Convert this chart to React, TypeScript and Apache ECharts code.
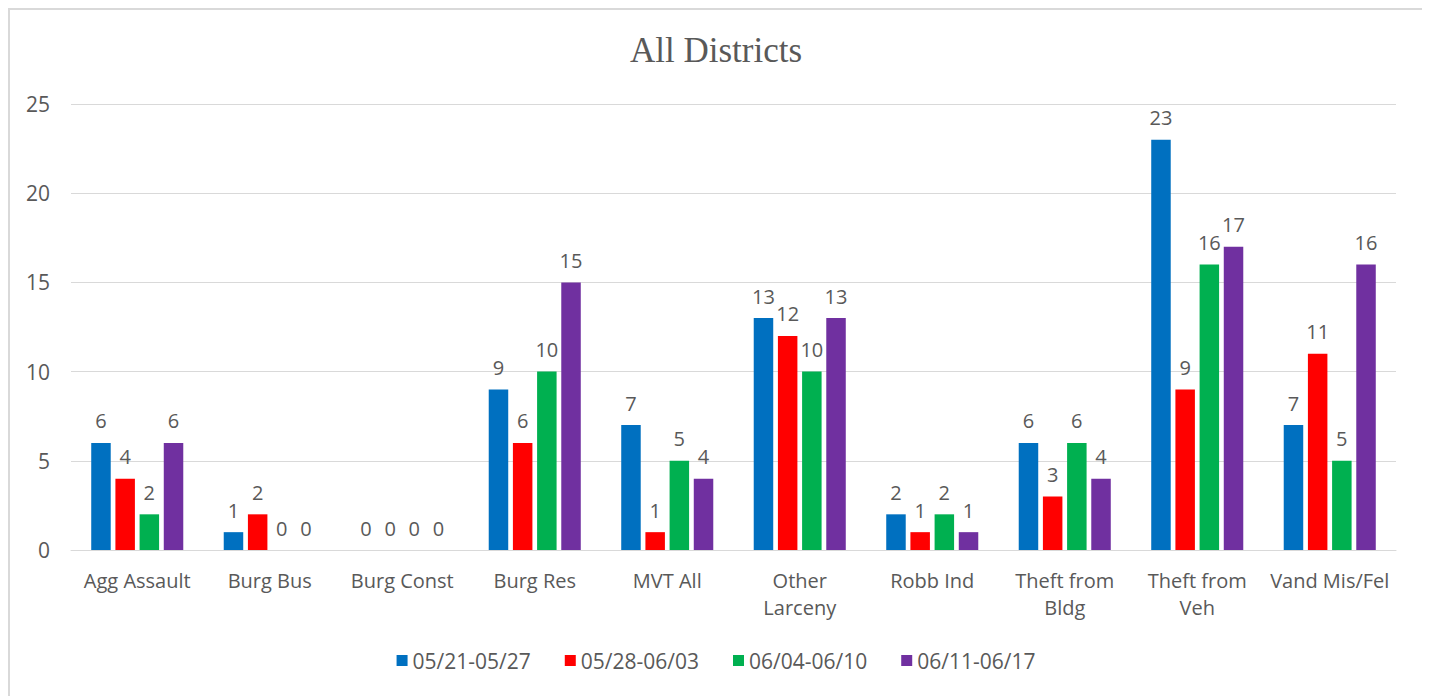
import React, { useEffect, useRef } from "react";
import * as echarts from "echarts";

const categories = [
  "Agg Assault",
  "Burg Bus",
  "Burg Const",
  "Burg Res",
  "MVT All",
  "Other\nLarceny",
  "Robb Ind",
  "Theft from\nBldg",
  "Theft from\nVeh",
  "Vand Mis/Fel",
];
const seriesNames = ["05/21-05/27", "05/28-06/03", "06/04-06/10", "06/11-06/17"];
const week1 = [6, 1, 0, 9, 7, 13, 2, 6, 23, 7];
const week2 = [4, 2, 0, 6, 1, 12, 1, 3, 9, 11];
const week3 = [2, 0, 0, 10, 5, 10, 2, 6, 16, 5];
const week4 = [6, 0, 0, 15, 4, 13, 1, 4, 17, 16];
const colors = ["#0070C0", "#FF0000", "#00B050", "#7030A0"];
const yTicks = { min: 0, max: 25, interval: 5 };

const SANS = "'Open Sans', 'Noto Sans', sans-serif";

export default function App() {
  const ref = useRef<HTMLDivElement>(null);
  useEffect(() => {
    if (!ref.current) return;
    const chart = echarts.init(ref.current, null, { renderer: "svg" });
    const data = [week1, week2, week3, week4];
    chart.setOption({
      animation: false,
      title: {
        text: "All Districts",
        left: "center",
        top: 18,
        textStyle: {
          fontFamily: "'Liberation Serif', 'DejaVu Serif', serif",
          fontWeight: "normal",
          fontSize: 35,
          color: "#595959",
        },
      },
      legend: {
        top: 635,
        left: "center",
        itemWidth: 11,
        itemHeight: 11,
        itemGap: 34,
        icon: "rect",
        textStyle: { fontFamily: SANS, fontSize: 21, color: "#595959" },
        data: seriesNames,
      },
      grid: { left: 61, right: 26, top: 94, height: 446 },
      xAxis: {
        type: "category",
        data: categories,
        axisLine: { lineStyle: { color: "#d9d9d9" } },
        axisTick: { show: false },
        axisLabel: {
          fontFamily: SANS,
          fontSize: 20,
          color: "#595959",
          margin: 17,
          lineHeight: 27,
          interval: 0,
        },
      },
      yAxis: {
        type: "value",
        min: yTicks.min,
        max: yTicks.max,
        interval: yTicks.interval,
        axisLine: { show: false },
        axisTick: { show: false },
        splitLine: { lineStyle: { color: "#d9d9d9" } },
        axisLabel: {
          fontFamily: SANS,
          fontSize: 21,
          color: "#595959",
          margin: 21,
        },
      },
      series: seriesNames.map((name, i) => ({
        name,
        type: "bar",
        data: data[i],
        barWidth: 19.5,
        barGap: "24%",
        itemStyle: { color: colors[i] },
        label: {
          show: true,
          position: "top",
          distance: 12,
          fontFamily: SANS,
          fontSize: 20,
          color: "#595959",
        },
      })),
    });
    return () => chart.dispose();
  }, []);
  return (
    <div
      ref={ref}
      style={{
        width: 1416,
        height: 700,
        boxSizing: "border-box",
        border: "2px solid #d9d9d9",
      }}
    />
  );
}
